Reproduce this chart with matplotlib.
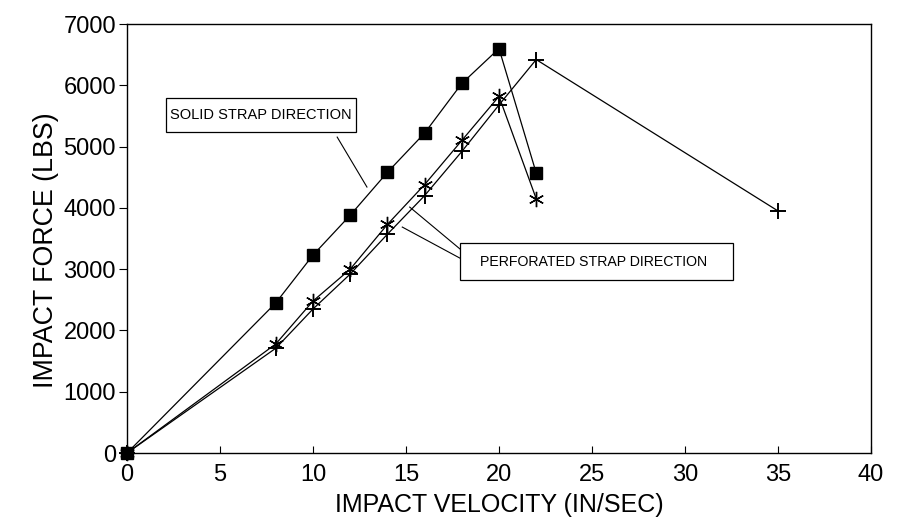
import numpy as np
import matplotlib
matplotlib.use('Agg')
import matplotlib.pyplot as plt
from matplotlib.patches import Rectangle

plt.rcParams['font.family'] = ['Liberation Sans', 'DejaVu Sans']

# dados
vel_solid = [0, 8, 10, 12, 14, 16, 18, 20, 22]
forca_solid = [0, 2450, 3230, 3880, 4580, 5220, 6030, 6600, 4570]

vel_perf_ast = [0, 8, 10, 12, 14, 16, 18, 20, 22]
forca_perf_ast = [0, 1780, 2480, 3000, 3730, 4380, 5100, 5820, 4150]

vel_perf_mais = [0, 8, 10, 12, 14, 16, 18, 20, 22, 35]
forca_perf_mais = [0, 1710, 2350, 2920, 3570, 4200, 4920, 5680, 6420, 3950]

x_ticks = [0, 5, 10, 15, 20, 25, 30, 35, 40]
y_ticks = [0, 1000, 2000, 3000, 4000, 5000, 6000, 7000]

fig = plt.figure(figsize=(8.97, 5.28), dpi=100)
ax = fig.add_axes([0.1416, 0.142, 0.8294, 0.8125])

ax.plot(vel_solid, forca_solid, color='black', lw=0.9, marker='s',
        markersize=9, markerfacecolor='black', clip_on=False, zorder=3)
ax.plot(vel_perf_ast, forca_perf_ast, color='black', lw=0.9,
        marker=(6, 2, 0), markersize=11, markeredgewidth=1.0,
        clip_on=False, zorder=3)
ax.plot(vel_perf_mais, forca_perf_mais, color='black', lw=0.9, marker='+',
        markersize=12, markeredgewidth=1.4, clip_on=False, zorder=3)

ax.set_xlim(0, 40)
ax.set_ylim(0, 7000)
ax.set_xticks(x_ticks)
ax.set_yticks(y_ticks)
ax.tick_params(axis='x', direction='in', length=5, labelsize=17, pad=8)
ax.tick_params(axis='y', direction='out', length=6, labelsize=17, pad=2)
for s in ax.spines.values():
    s.set_linewidth(1.0)

ax.set_xlabel('IMPACT VELOCITY (IN/SEC)', fontsize=18, labelpad=5)
ax.set_ylabel('IMPACT FORCE (LBS)', fontsize=19.3)
ax.yaxis.set_label_coords(-0.092, 0.473)

# anotacoes
ax.add_patch(Rectangle((2.1, 5240), 10.2, 550, facecolor='white',
                       edgecolor='black', lw=0.9, zorder=4))
ax.text(7.2, 5515, 'SOLID STRAP DIRECTION', fontsize=10.5, va='center',
        ha='center', zorder=5)
ax.plot([11.3, 12.9], [5155, 4340], color='black', lw=0.8)

ax.add_patch(Rectangle((17.9, 2825), 14.7, 600, facecolor='white',
                       edgecolor='black', lw=0.9, zorder=4))
ax.text(25.1, 3125, 'PERFORATED STRAP DIRECTION', fontsize=10.2, va='center',
        ha='center', zorder=5)
ax.plot([15.2, 17.9], [4013, 3330], color='black', lw=0.8)
ax.plot([14.8, 17.9], [3687, 3180], color='black', lw=0.8)

fig.savefig('out.png', dpi=100)
